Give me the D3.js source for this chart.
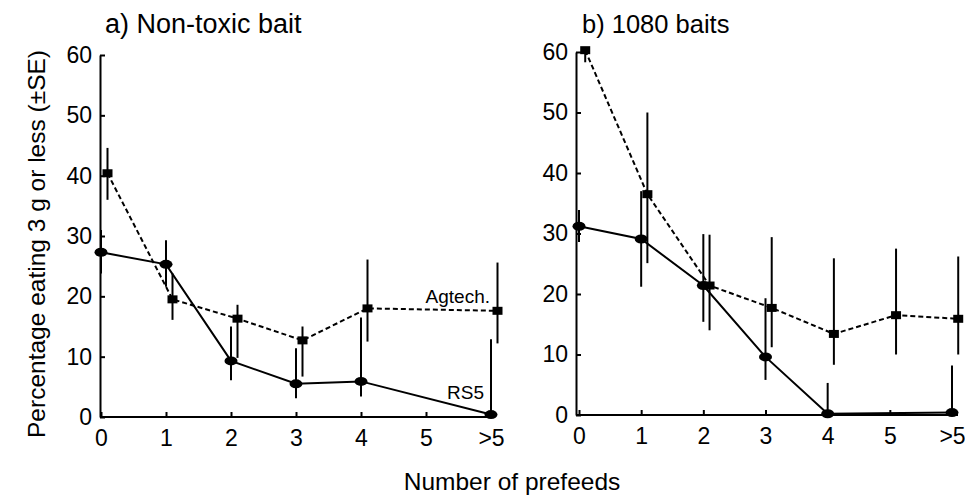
<!DOCTYPE html>
<html><head><meta charset="utf-8">
<script src="https://cdn.jsdelivr.net/npm/d3@7"></script>
<style>
body{margin:0;background:#fff;}
svg{display:block;font-family:"Liberation Sans",Arial,Helvetica,sans-serif;}
</style></head><body>
<svg id="chart" width="965" height="498"></svg>
<script>
// Prefeed categories (index = position on the x axis)
const categories = ["0","1","2","3","4","5",">5"];
const yTicks = [0,10,20,30,40,50,60];

// a) Non-toxic bait — RS5 (circles, solid)
const rs5A_x  = [0,1,2,3,4,6];
const rs5A    = [27.3,25.3,9.3,5.5,5.9,0.4];
const rs5A_lo = [23.8,21.6,6.1,3.1,3.4,0];
const rs5A_hi = [31.0,29.3,15.0,11.4,16.5,12.9];
// a) Non-toxic bait — Agtech (squares, dashed)
const agA_x  = [0.1,1.1,2.1,3.1,4.1,6.1];
const agA    = [40.4,19.5,16.3,12.7,18.0,17.6];
const agA_lo = [36.0,16.1,9.8,6.7,12.5,12.2];
const agA_hi = [44.6,23.8,18.6,15.0,26.1,25.6];

// b) 1080 baits — RS5
const rs5B_x  = [0,1,2,3,4,6];
const rs5B    = [31.2,29.1,21.4,9.6,0.2,0.4];
const rs5B_lo = [28.6,21.2,15.4,5.8,0,0];
const rs5B_hi = [33.9,37.0,29.9,19.3,5.3,8.2];
// b) 1080 baits — Agtech
const agB_x  = [0.1,1.1,2.1,3.1,4.1,5.1,6.1];
const agB    = [60.3,36.5,21.4,17.7,13.4,16.5,15.9];
const agB_lo = [58.3,25.1,14.0,11.2,8.3,10.0,10.0];
const agB_hi = [60.6,50.0,29.8,29.4,25.9,27.5,26.2];

const svg = d3.select("#chart");

function zip(xs, v, lo, hi){
  return xs.map((x,i)=>({x, v:v[i], lo:lo[i], hi:hi[i]}));
}

function drawPanel(cfg){
  const g = svg.append("g");
  const x = d3.scaleLinear().domain([0,6]).range(cfg.xr);
  const y = d3.scaleLinear().domain([0,60]).range(cfg.yr);

  // y axis
  const ya = g.append("g").attr("transform",`translate(${cfg.ax},0)`)
    .call(d3.axisLeft(y).tickValues(yTicks).tickSize(-5).tickSizeOuter(0).tickPadding(8));
  ya.select(".domain").attr("stroke","#000").attr("stroke-width",2);
  ya.selectAll(".tick line").attr("stroke","#000").attr("stroke-width",2);
  ya.selectAll(".tick text").attr("font-size",23).attr("fill","#000")
    .attr("font-family","'Liberation Sans',Arial,sans-serif");

  // x axis
  const xa = g.append("g").attr("transform",`translate(0,${y(0)})`)
    .call(d3.axisBottom(x).tickValues(d3.range(categories.length))
      .tickFormat(i=>categories[i]).tickSize(-5).tickSizeOuter(0).tickPadding(13));
  xa.select(".domain").remove();
  xa.append("line").attr("x1",cfg.ax).attr("x2",cfg.xEnd)
    .attr("stroke","#000").attr("stroke-width",2);
  xa.selectAll(".tick line").attr("stroke","#000").attr("stroke-width",2);
  xa.selectAll(".tick text").attr("font-size",23).attr("fill","#000")
    .attr("font-family","'Liberation Sans',Arial,sans-serif");

  const line = d3.line().x(d=>x(d.x)).y(d=>y(d.v));

  cfg.series.forEach(s=>{
    const data = zip(s.xs, s.v, s.lo, s.hi);
    // standard error bars
    g.append("g").selectAll("line").data(data).join("line")
      .attr("x1",d=>x(d.x)).attr("x2",d=>x(d.x))
      .attr("y1",d=>y(d.lo)).attr("y2",d=>y(d.hi))
      .attr("stroke","#000").attr("stroke-width",2);
    // connecting line
    g.append("path").datum(data).attr("d",line)
      .attr("fill","none").attr("stroke","#000").attr("stroke-width",2)
      .attr("stroke-dasharray",s.dashed ? "5,3" : null);
    // markers
    if(s.shape==="circle"){
      g.append("g").selectAll("ellipse").data(data).join("ellipse")
        .attr("cx",d=>x(d.x)).attr("cy",d=>y(d.v)).attr("rx",6.5).attr("ry",4.5)
        .attr("fill","#000");
    } else {
      g.append("g").selectAll("rect").data(data).join("rect")
        .attr("x",d=>x(d.x)-5).attr("y",d=>y(d.v)-4).attr("width",10).attr("height",8)
        .attr("fill","#000");
    }
  });

  g.append("text").attr("x",cfg.titleX).attr("y",33)
    .attr("font-size",cfg.titleSize).attr("fill","#000").text(cfg.title);
  return {x,y,g};
}

const pa = drawPanel({
  title:"a) Non-toxic bait", titleX:105, titleSize:27,
  ax:100, xr:[101,491], yr:[417,55], xEnd:492,
  series:[
    {xs:rs5A_x, v:rs5A, lo:rs5A_lo, hi:rs5A_hi, shape:"circle", dashed:false},
    {xs:agA_x, v:agA, lo:agA_lo, hi:agA_hi, shape:"square", dashed:true}
  ]
});
const pb = drawPanel({
  title:"b) 1080 baits", titleX:582, titleSize:25.5,
  ax:576, xr:[579,952], yr:[415,52], xEnd:958,
  series:[
    {xs:rs5B_x, v:rs5B, lo:rs5B_lo, hi:rs5B_hi, shape:"circle", dashed:false},
    {xs:agB_x, v:agB, lo:agB_lo, hi:agB_hi, shape:"square", dashed:true}
  ]
});

// series labels in panel a
pa.g.append("text").attr("x",490).attr("y",303).attr("text-anchor","end")
  .attr("font-size",19).attr("fill","#000").text("Agtech.");
pa.g.append("text").attr("x",447).attr("y",399)
  .attr("font-size",19).attr("fill","#000").text("RS5");

// axis titles
svg.append("text").attr("transform","translate(45,244) rotate(-90)")
  .attr("text-anchor","middle").attr("font-size",24.5).attr("fill","#000")
  .text("Percentage eating 3 g or less (±SE)");
svg.append("text").attr("x",512).attr("y",490)
  .attr("text-anchor","middle").attr("font-size",24.5).attr("fill","#000")
  .text("Number of prefeeds");
</script>
</body></html>
